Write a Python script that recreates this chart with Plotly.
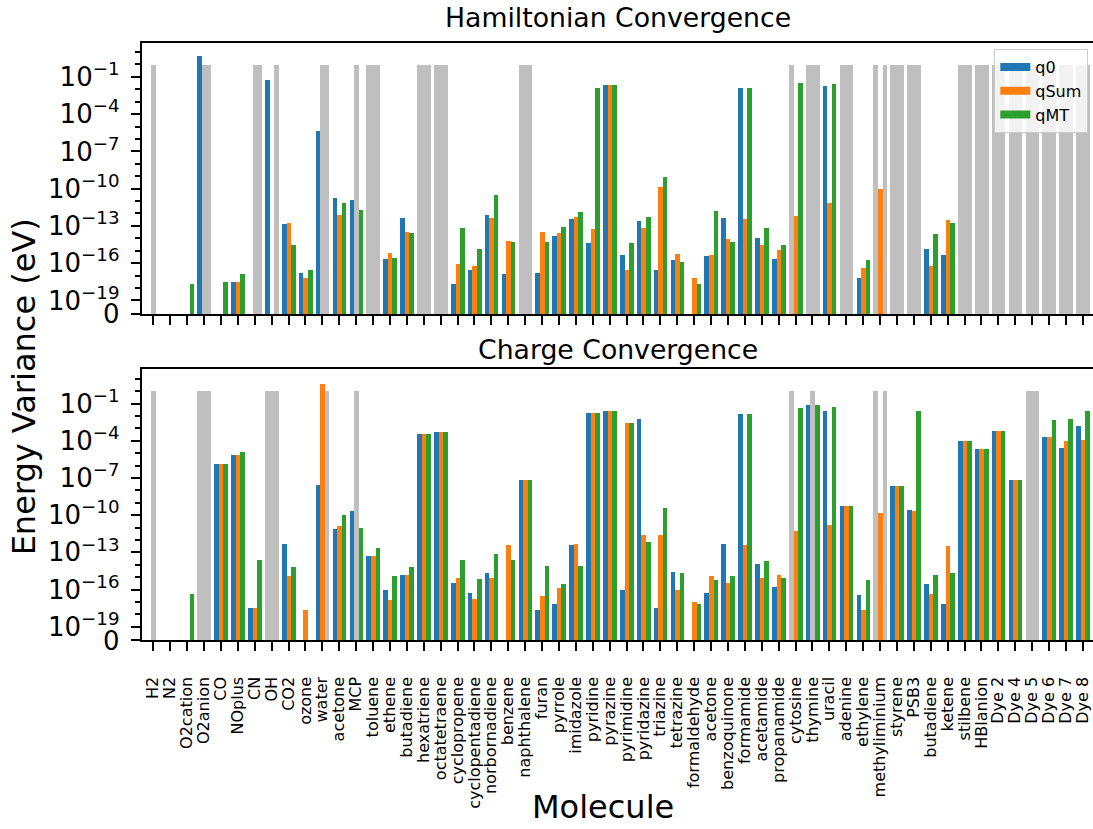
import math
import plotly.graph_objects as go

# ---------------------------------------------------------------------------
# Data: energy variance (eV) per molecule for three charge schemes.
# 0 -> exactly zero variance, F (None) -> calculation did not converge.
# ---------------------------------------------------------------------------
F = None

molecules = [
    "H2", "N2", "O2cation", "O2anion", "CO", "NOplus", "CN", "OH", "CO2", "ozone",
    "water", "acetone", "MCP", "toluene", "ethene", "butadiene", "hexatriene",
    "octatetraene", "cyclopropene", "cyclopentadiene", "norbornadiene", "benzene",
    "naphthalene", "furan", "pyrrole", "imidazole", "pyridine", "pyrazine",
    "pyrimidine", "pyridazine", "triazine", "tetrazine", "formaldehyde", "acetone",
    "benzoquinone", "formamide", "acetamide", "propanamide", "cytosine", "thymine",
    "uracil", "adenine", "ethylene", "methyliminium", "styrene", "PSB3", "butadiene",
    "ketene", "stilbene", "HBlanion", "Dye 2", "Dye 4", "Dye 5", "Dye 6", "Dye 7", "Dye 8",
]

# Hamiltonian convergence
ham_q0 = [
    0, 0, 0, 5.0, 0, 3.5e-18, 0, 0.062, 1.5e-13, 1.7e-17,
    4.6e-6, 1.8e-11, 1.3e-11, F, 2.2e-16, 4.6e-13, F, F, 2.3e-18, 3.2e-17,
    7.8e-13, 1.4e-17, F, 1.7e-17, 1.8e-14, 4.3e-13, 4.8e-15, 0.023, 5.1e-16, 2.8e-13,
    3.2e-17, 1.8e-16, 0, 4.0e-16, 5.1e-13, 0.015, 1.2e-14, 2.2e-16, F, F,
    0.020, F, 6.9e-18, F, F, F, 1.6e-15, 4.8e-16, F, F,
    F, F, F, F, F, F,
]
ham_qsum = [
    F, 0, 0, F, 0, 3.5e-18, F, 0, 1.8e-13, 6.9e-18,
    F, 8.9e-13, F, F, 6.6e-16, 3.4e-14, F, F, 8.9e-17, 5.9e-17,
    5.1e-13, 6.6e-15, F, 3.4e-14, 3.0e-14, 5.5e-13, 5.8e-14, 0.023, 3.0e-17, 7.4e-14,
    1.4e-10, 5.8e-16, 6.9e-18, 4.6e-16, 1.0e-14, 3.8e-13, 3.4e-15, 1.3e-15, 7.4e-13, F,
    7.9e-12, F, 4.3e-17, 1.0e-10, F, F, 5.9e-17, 3.2e-13, F, F,
    F, F, F, F, F, F,
]
ham_qmt = [
    0, 0, 2.3e-18, F, 3.5e-18, 1.4e-17, F, F, 3.0e-15, 3.2e-17,
    F, 7.9e-12, 2.0e-12, F, 2.8e-16, 2.8e-14, F, F, 6.9e-14, 1.4e-15,
    3.4e-11, 5.5e-15, F, 5.8e-15, 8.3e-14, 1.4e-12, 0.015, 0.023, 4.8e-15, 6.2e-13,
    1.0e-9, 1.3e-16, 2.3e-18, 1.6e-12, 5.8e-15, 0.015, 6.9e-14, 3.0e-15, 0.035, F,
    0.030, F, 1.8e-16, F, F, F, 2.6e-14, 1.8e-13, F, F,
    F, F, F, F, F, F,
]

# Charge convergence
chg_q0 = [
    0, 0, 0, F, 1.3e-6, 7.1e-6, 3.2e-18, F, 4.2e-13, 0,
    2.6e-8, 6.9e-12, 2.0e-10, 4.5e-14, 9.3e-17, 1.4e-15, 3.2e-4, 4.5e-4, 3.4e-16, 5.5e-17,
    1.9e-15, 0, 7.2e-8, 2.1e-18, 6.5e-18, 3.7e-13, 0.016, 0.026, 8.3e-17, 5.0e-3,
    3.2e-18, 2.7e-15, 0, 5.5e-17, 4.5e-13, 0.015, 1.1e-14, 1.5e-16, F, 0.074,
    0.023, 4.9e-10, 3.3e-17, F, 2.1e-8, 2.7e-10, 2.5e-16, 6.5e-18, 8.5e-5, 2.2e-5,
    6.3e-4, 6.5e-8, F, 1.9e-4, 2.7e-5, 1.5e-3,
]
chg_qsum = [
    F, 0, 0, F, 1.2e-6, 7.1e-6, 3.2e-18, F, 1.3e-15, 2.0e-18,
    3.9, 1.3e-11, F, 4.5e-14, 1.3e-17, 1.5e-15, 3.2e-4, 4.5e-4, 8.9e-16, 1.8e-17,
    7.9e-16, 3.7e-13, 7.2e-8, 2.8e-17, 1.2e-16, 4.5e-13, 0.016, 0.026, 2.8e-3, 2.6e-12,
    2.3e-12, 8.9e-17, 8.7e-18, 1.1e-15, 3.0e-16, 3.7e-13, 8.9e-16, 1.4e-15, 5.1e-12, F,
    1.6e-11, 4.9e-10, 2.0e-18, 1.4e-10, 2.1e-8, 2.1e-10, 4.6e-17, 3.0e-13, 8.5e-5, 2.2e-5,
    6.3e-4, 6.5e-8, F, 1.9e-4, 9.5e-5, 1.1e-4,
]
chg_qmt = [
    0, 0, 4.0e-17, F, 1.2e-6, 1.1e-5, 2.4e-14, F, 6.8e-15, 0,
    F, 1.0e-10, 8.9e-12, 2.3e-13, 1.2e-15, 6.8e-15, 3.2e-4, 4.5e-4, 2.2e-14, 6.6e-16,
    6.8e-14, 2.4e-14, 7.2e-8, 7.6e-15, 2.5e-16, 7.9e-15, 0.016, 0.026, 2.8e-3, 6.0e-13,
    3.6e-10, 2.2e-15, 6.5e-18, 5.5e-16, 1.3e-15, 0.015, 2.0e-14, 7.9e-16, 0.040, 0.074,
    0.055, 4.9e-10, 5.5e-16, F, 2.1e-8, 0.023, 1.4e-15, 2.1e-15, 8.5e-5, 2.2e-5,
    6.3e-4, 6.5e-8, F, 4.2e-3, 5.4e-3, 0.023,
]

series_names = ["q0", "qSum", "qMT"]
panels = [
    ("Hamiltonian Convergence", [ham_q0, ham_qsum, ham_qmt]),
    ("Charge Convergence", [chg_q0, chg_qsum, chg_qmt]),
]

# ---------------------------------------------------------------------------
# Styling
# ---------------------------------------------------------------------------
FONT = "DejaVu Sans"
W, H = 1093, 829
colors = ["#1f77b4", "#ff7f0e", "#2ca02c"]
fail_color = "#bfbfbf"
fail_height = 1.0
bar_w = 0.27
offsets = [-1.5 * bar_w, -0.5 * bar_w, 0.5 * bar_w]

# symlog-like axis: linear region [0, 1e-19] compressed below the first decade
lin_thresh_exp = -19
zero_exp = lin_thresh_exp - 1.0 / (1 - 1 / 10)   # position drawn for "0"
y_top_exp = 1.77

x = list(range(len(molecules)))

fig = go.Figure()

for p, (title, data) in enumerate(panels):
    xa = "x" if p == 0 else "x2"
    ya = "y" if p == 0 else "y2"
    # failed runs shown as grey blocks in their slot
    for s, vals in enumerate(data):
        fig.add_trace(go.Bar(
            x=x, y=[fail_height if v is None else None for v in vals],
            width=bar_w, offset=offsets[s], marker=dict(color=fail_color, line=dict(width=0)),
            showlegend=False, xaxis=xa, yaxis=ya, hoverinfo="skip",
        ))
    for s, vals in enumerate(data):
        fig.add_trace(go.Bar(
            x=x, y=vals, name=series_names[s],
            width=bar_w, offset=offsets[s], marker=dict(color=colors[s], line=dict(width=0)),
            showlegend=False, xaxis=xa, yaxis=ya,
        ))

# legend entries drawn as thick line swatches
for s, name in enumerate(series_names):
    fig.add_trace(go.Scatter(
        x=[None], y=[None], mode="lines", name=name,
        line=dict(color=colors[s], width=8), xaxis="x", yaxis="y",
    ))

major_exps = [-19, -16, -13, -10, -7, -4, -1]
tickvals = [10 ** zero_exp] + [10.0 ** e for e in major_exps]
ticktext = ["0"] + ["10<sup>\u2212%d</sup>" % (-e) for e in major_exps]
minor_vals = [10.0 ** e for e in range(-18, 2) if e not in major_exps]

x_left_px, x_right_px = 141.7, 1093.0
x_step = 16.9
x_first_px = 153.3
x_range = [-(x_first_px - x_left_px) / x_step, (x_right_px - x_first_px) / x_step]

panel_px = [(43.3, 320.0), (376.0, 652.3)]


def ydom(top, bottom):
    return [1 - bottom / H, 1 - top / H]


common_x = dict(
    range=x_range, tickmode="array", tickvals=x, ticktext=molecules,
    ticks="outside", ticklen=9, tickwidth=2, tickcolor="black",
    showline=True, linewidth=2, linecolor="black", mirror=True,
    showgrid=False, zeroline=False, domain=[x_left_px / W, 1.0],
    tickfont=dict(family=FONT, size=16, color="black"), tickangle=-90,
)
common_y = dict(
    type="log", range=[zero_exp - 0.001, y_top_exp], tickmode="array",
    tickvals=tickvals, ticktext=ticktext,
    ticks="outside", ticklen=9, tickwidth=2, tickcolor="black",
    showline=True, linewidth=2, linecolor="black",
    showgrid=False, zeroline=False,
    tickfont=dict(family=FONT, size=26, color="black"),
    ticklabelstandoff=6,
    minor=dict(tickmode="array", tickvals=minor_vals, ticks="outside",
               ticklen=5, tickwidth=1.5, tickcolor="black", showgrid=False),
)

fig.update_layout(
    width=W, height=H,
    margin=dict(l=0, r=0, t=0, b=0),
    paper_bgcolor="white", plot_bgcolor="white",
    barmode="overlay", bargap=0,
    font=dict(family=FONT, color="black"),
    xaxis=dict(common_x, anchor="y", showticklabels=False),
    xaxis2=dict(common_x, anchor="y2", matches="x", ticklabelstandoff=19),
    yaxis=dict(common_y, anchor="x", domain=ydom(*panel_px[0])),
    yaxis2=dict(common_y, anchor="x2", domain=ydom(*panel_px[1])),
    legend=dict(
        x=1088.3 / W, y=1 - 50 / H, xanchor="right", yanchor="top",
        bgcolor="rgba(255,255,255,0.8)", bordercolor="#cccccc", borderwidth=1,
        font=dict(family=FONT, size=16, color="black"),
        itemwidth=30, tracegroupgap=0,
    ),
)

annotations = [
    dict(text="Hamiltonian Convergence", x=618 / W, y=1 - 17.4 / H),
    dict(text="Charge Convergence", x=618 / W, y=1 - 355.7 / H),
]
for a in annotations:
    fig.add_annotation(xref="paper", yref="paper", xanchor="center", yanchor="middle",
                       showarrow=False, font=dict(family=FONT, size=26.7, color="black"), **a)

fig.add_annotation(text="Energy Variance (eV)", xref="paper", yref="paper",
                   x=24 / W, y=1 - 394.5 / H, xanchor="center", yanchor="middle",
                   textangle=-90, showarrow=False,
                   font=dict(family=FONT, size=32, color="black"))
fig.add_annotation(text="Molecule", xref="paper", yref="paper",
                   x=603 / W, y=1 - 822 / H, xanchor="center", yanchor="middle",
                   showarrow=False, font=dict(family=FONT, size=32, color="black"))

fig.write_html("out.html")
